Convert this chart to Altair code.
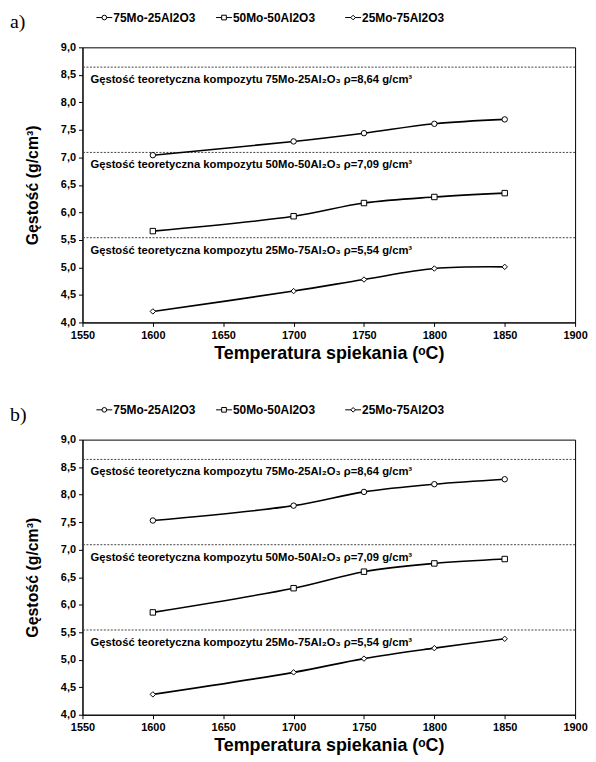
import altair as alt
import pandas as pd

# ---- data ----
temps = [1600, 1700, 1750, 1800, 1850]
series = ["75Mo-25Al2O3", "50Mo-50Al2O3", "25Mo-75Al2O3"]

a_75 = [7.04, 7.29, 7.44, 7.61, 7.69]
a_50 = [5.66, 5.93, 6.17, 6.28, 6.35]
a_25 = [4.20, 4.57, 4.78, 4.98, 5.01]

b_75 = [7.53, 7.80, 8.05, 8.19, 8.28]
b_50 = [5.86, 6.30, 6.60, 6.75, 6.83]
b_25 = [4.37, 4.77, 5.02, 5.21, 5.38]

theo_values = [8.64, 7.09, 5.54]
theo_labels = [
    "Gęstość teoretyczna kompozytu 75Mo-25Al₂O₃ ρ=8,64 g/cm³",
    "Gęstość teoretyczna kompozytu 50Mo-50Al₂O₃ ρ=7,09 g/cm³",
    "Gęstość teoretyczna kompozytu 25Mo-75Al₂O₃ ρ=5,54 g/cm³",
]
panel_tags = ["a)", "b)"]

x_ticks = [1550, 1600, 1650, 1700, 1750, 1800, 1850, 1900]
y_ticks = [4.0, 4.5, 5.0, 5.5, 6.0, 6.5, 7.0, 7.5, 8.0, 8.5, 9.0]

FONT = "Liberation Sans"

X_AXIS = alt.Axis(
    values=x_ticks, format="d", title="Temperatura spiekania (ᵒC)",
    grid=False, labelFont=FONT, labelFontWeight="bold", labelFontSize=11,
    titleFont=FONT, titleFontWeight="bold", titleFontSize=18,
    labelColor="black", titleColor="black", domainColor="black",
    tickColor="black", tickSize=4, labelPadding=3, titlePadding=4,
    labelFlush=False,
)
Y_AXIS = alt.Axis(
    values=y_ticks, labelExpr="replace(format(datum.value, '.1f'), '.', ',')",
    title="Gęstość (g/cm³)", grid=False,
    labelFont=FONT, labelFontWeight="bold", labelFontSize=11,
    titleFont=FONT, titleFontWeight="bold", titleFontSize=16,
    labelColor="black", titleColor="black", domainColor="black",
    tickColor="black", tickSize=4, labelPadding=3, titlePadding=20,
    labelFlush=False,
)
X_SCALE = alt.Scale(domain=[1550, 1900], nice=False)
Y_SCALE = alt.Scale(domain=[4, 9], nice=False, zero=False)
SHAPE_SCALE = alt.Scale(domain=series, range=["circle", "square", "diamond"])

# legend entry layout (pixel offsets from the plot's left edge)
LEG_EXPR = "[22, 142.5, 272.5][indexof(['75Mo-25Al2O3','50Mo-50Al2O3','25Mo-75Al2O3'], datum.series)]"
LEG_Y = -30


def make_panel(v75, v50, v25, tag):
    rows = []
    for s, vals in zip(series, [v75, v50, v25]):
        for t, v in zip(temps, vals):
            rows.append({"temp": t, "value": v, "series": s})
    df = pd.DataFrame(rows)
    theo = pd.DataFrame({"value": theo_values, "label": theo_labels})
    tagdf = pd.DataFrame({"tag": [tag]})
    legdf = pd.DataFrame({"series": series})

    x = alt.X("temp:Q", scale=X_SCALE, axis=X_AXIS)
    y = alt.Y("value:Q", scale=Y_SCALE, axis=Y_AXIS)

    rules = alt.Chart(theo).mark_rule(
        color="#444", strokeWidth=1, strokeDash=[2, 1.5]
    ).encode(y=y)

    texts = alt.Chart(theo).mark_text(
        align="left", baseline="middle", dy=13, font=FONT, fontWeight="bold",
        fontSize=11.3, color="black",
    ).encode(x=alt.value(8), y=y, text="label:N")

    lines = alt.Chart(df).mark_line(
        color="black", strokeWidth=1.6, interpolate="catmull-rom"
    ).encode(x=x, y=y, detail="series:N")

    points = alt.Chart(df).mark_point(
        filled=True, fill="white", stroke="black", strokeWidth=1, opacity=1, size=30
    ).encode(
        x=x, y=y,
        shape=alt.Shape("series:N", scale=SHAPE_SCALE, legend=None),
    )

    # legend: short line + marker + label for each series, above the plot
    leg_base = alt.Chart(legdf).transform_calculate(
        px=LEG_EXPR
    ).transform_calculate(
        px1="datum.px - 8", px2="datum.px + 8", tx="datum.px + 9"
    )
    leg_lines = leg_base.mark_rule(color="black", strokeWidth=1).encode(
        x=alt.X("px1:Q", scale=None, axis=None), x2="px2:Q", y=alt.value(LEG_Y)
    )
    leg_marks = leg_base.mark_point(
        filled=True, fill="white", stroke="black", strokeWidth=1, opacity=1, size=22
    ).encode(
        x=alt.X("px:Q", scale=None, axis=None), y=alt.value(LEG_Y),
        shape=alt.Shape("series:N", scale=SHAPE_SCALE, legend=None),
    )
    leg_text = leg_base.mark_text(
        align="left", baseline="middle", font=FONT, fontWeight="bold",
        fontSize=12, color="black",
    ).encode(x=alt.X("tx:Q", scale=None, axis=None), y=alt.value(LEG_Y), text="series:N")

    tag_text = alt.Chart(tagdf).mark_text(
        align="left", baseline="middle", font="Liberation Serif", fontSize=20,
        color="black",
    ).encode(x=alt.value(-73), y=alt.value(-25), text="tag:N")

    return alt.layer(
        rules, texts, lines, points, leg_lines, leg_marks, leg_text, tag_text
    ).properties(width=496, height=277)


pa = make_panel(a_75, a_50, a_25, panel_tags[0])
pb = make_panel(b_75, b_50, b_25, panel_tags[1])

chart = alt.vconcat(pa, pb, spacing=40).properties(
    padding={"left": 1, "top": 0, "right": 0, "bottom": 5}
).configure_view(stroke="black", strokeWidth=1)

chart.save("out.html", embed_options={"renderer": "svg", "actions": False})
